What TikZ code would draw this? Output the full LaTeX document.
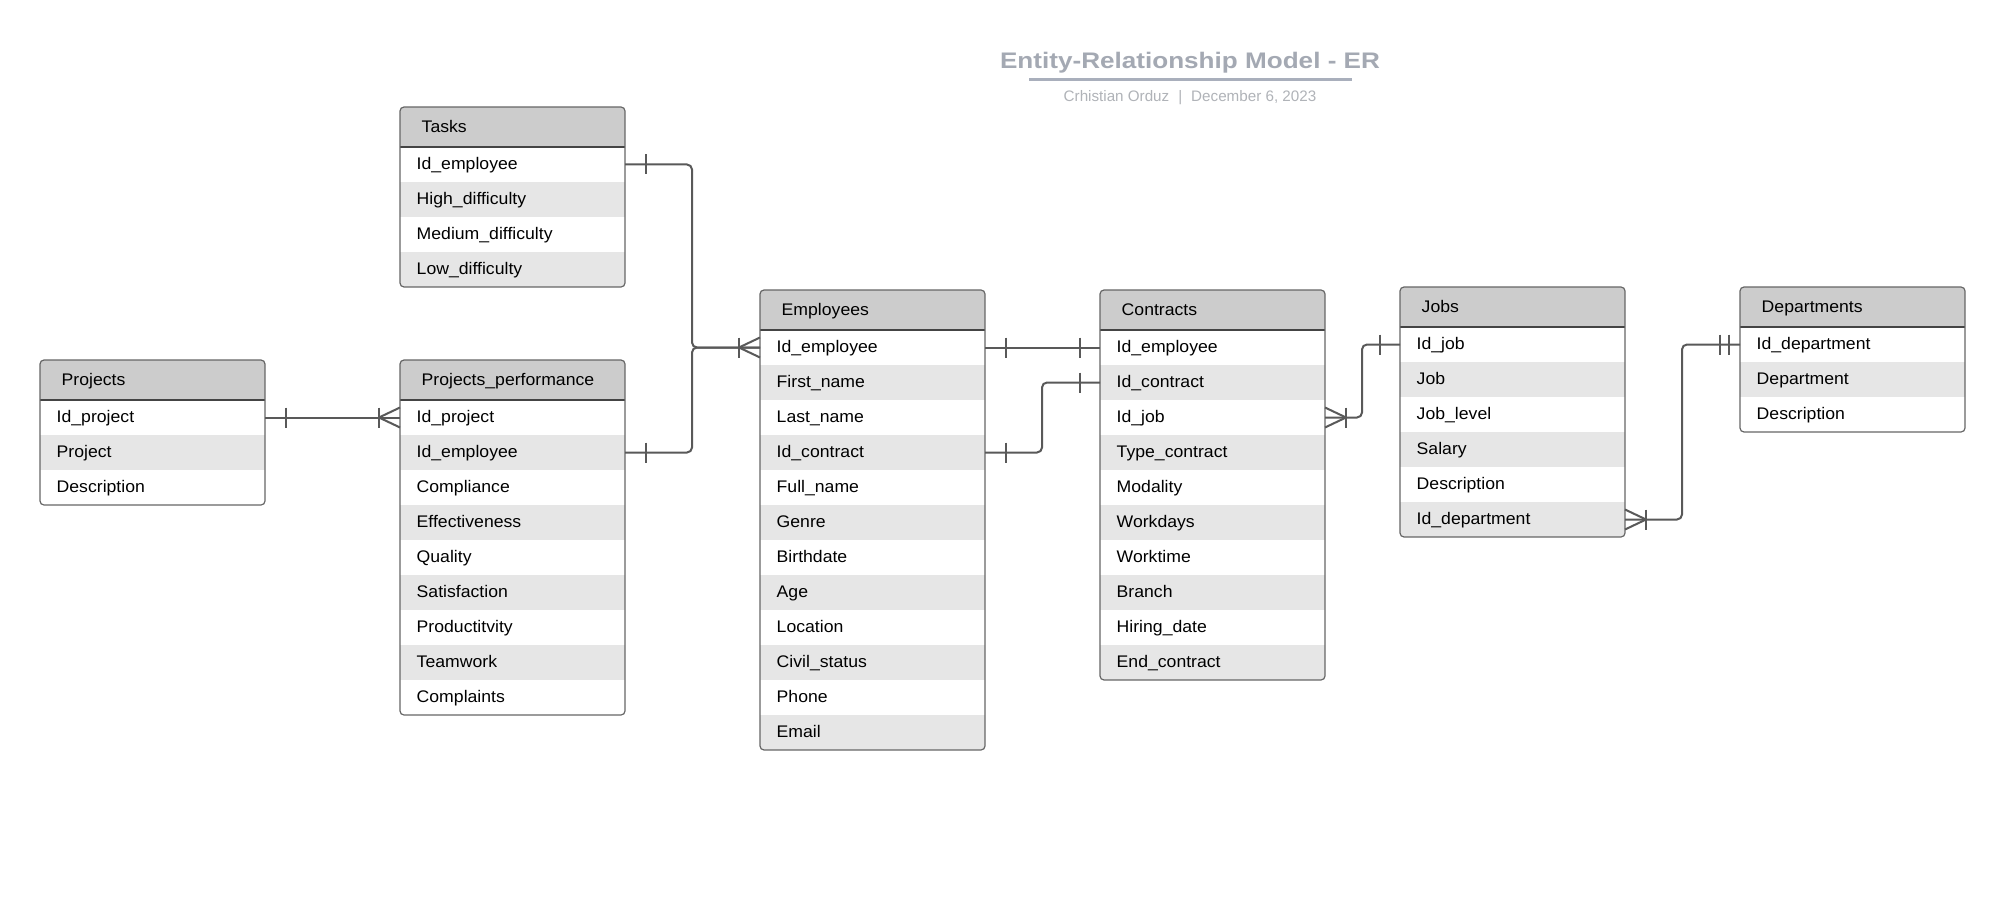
\documentclass[tikz,border=0pt]{standalone}
\usepackage{fontspec}
\setmainfont{Liberation Sans}[FakeStretch=1.05]
\newfontfamily\titlefont{Liberation Sans}[FakeStretch=1.16]
\newfontfamily\subfont{Liberation Sans}
\usetikzlibrary{calc}
\definecolor{hdrgray}{HTML}{CCCCCC}
\definecolor{rowgray}{HTML}{E6E6E6}
\definecolor{bordergray}{HTML}{666666}
\definecolor{seprgray}{HTML}{444444}
\definecolor{conngray}{HTML}{595959}
\definecolor{titlegray}{HTML}{A4A9B3}
\definecolor{linegray}{HTML}{A9AFBC}
\definecolor{subgray}{HTML}{B0B3B8}
\tikzset{
  rowcell/.style={anchor=north west, minimum height=35pt, text width=191.6pt,
    inner xsep=16.7pt, inner ysep=0pt, outer sep=0pt, align=left,
    font=\fontsize{16.8}{20}\selectfont, text height=13pt, text depth=3pt},
  hdrcell/.style={anchor=north west, minimum height=40pt, text width=181.6pt,
    inner xsep=21.7pt, inner ysep=0pt, outer sep=0pt, align=left, fill=hdrgray,
    font=\fontsize{16.8}{20}\selectfont, text height=13pt, text depth=2.5pt},
  conn/.style={draw=conngray, line width=2pt, line join=round},
  boxline/.style={draw=bordergray, line width=1.2pt},
  sepline/.style={draw=seprgray, line width=1.2pt},
}
\newcommand{\erentity}[5]{%
  \foreach \t [count=\i] in {#5} {\xdef\ernrows{\i}}%
  \pgfmathsetmacro\erh{40+35*\ernrows}%
  \begin{scope}
    \clip[rounded corners=4pt] (#2,#3) rectangle ++(225,\erh);
    \node[hdrcell] (#1-h) at (#2,#3) {#4};
    \foreach \t [count=\i] in {#5} {%
      \pgfmathsetmacro\yy{#3+40+35*(\i-1)}%
      \ifodd\i \node[rowcell,fill=white] (#1-\i) at (#2,\yy) {\t};%
      \else \node[rowcell,fill=rowgray] (#1-\i) at (#2,\yy) {\t};\fi
    }
  \end{scope}
  \draw[sepline] (#2,#3+40) -- ++(225,0);
  \draw[boxline, rounded corners=4pt] (#2,#3) rectangle ++(225,\erh);
}
\newcommand\erbar[2]{\draw[conn] ($(#1)+(#2,-10)$) -- ($(#1)+(#2,10)$);}
\newcommand\ercrow[2]{\draw[conn] ($(#1)+(0,-10)$) -- ($(#1)+(#2,0)$) -- ($(#1)+(0,10)$);\erbar{#1}{#2}}
\begin{document}
\begin{tikzpicture}[x=1pt,y=-1pt]
\fill[white] (0,0) rectangle (2005,920);
\useasboundingbox (0,0) rectangle (2005,920);

% title
\node[font=\titlefont\bfseries\fontsize{22.5}{25}\selectfont, text=titlegray, anchor=base, inner sep=0pt] (title) at (1190,68.5) {Entity-Relationship Model - ER};
\draw[draw=linegray, line width=2.2pt] (1029,79.5) -- (1352,79.5);
\node[font=\subfont\fontsize{15.2}{17}\selectfont, text=subgray, anchor=base, inner sep=0pt] (sub) at (1190,101.5) {Crhistian Orduz\hspace{9pt}|\hspace{9pt}December 6, 2023};

% entities
\erentity{proj}{40}{360}{Projects}{Id\_project, Project, Description}
\erentity{tasks}{400}{107}{Tasks}{Id\_employee, High\_difficulty, Medium\_difficulty, Low\_difficulty}
\erentity{pp}{400}{360}{Projects\_performance}{Id\_project, Id\_employee, Compliance, Effectiveness, Quality, Satisfaction, Productitvity, Teamwork, Complaints}
\erentity{emp}{760}{290}{Employees}{Id\_employee, First\_name, Last\_name, Id\_contract, Full\_name, Genre, Birthdate, Age, Location, Civil\_status, Phone, Email}
\erentity{con}{1100}{290}{Contracts}{Id\_employee, Id\_contract, Id\_job, Type\_contract, Modality, Workdays, Worktime, Branch, Hiring\_date, End\_contract}
\erentity{jobs}{1400}{287}{Jobs}{Id\_job, Job, Job\_level, Salary, Description, Id\_department}
\erentity{dep}{1740}{287}{Departments}{Id\_department, Department, Description}

% connectors
\coordinate (jn) at ($(emp-1.west)+(-68,0)$);
\draw[conn, rounded corners=5pt] (tasks-1.east) -| (jn) -- (emp-1.west);
\draw[conn, rounded corners=5pt] (pp-2.east) -| (jn) -- (emp-1.west);
\erbar{tasks-1.east}{21}
\erbar{pp-2.east}{21}
\ercrow{emp-1.west}{-21}

\draw[conn] (proj-1.east) -- (pp-1.west);
\erbar{proj-1.east}{21}
\ercrow{pp-1.west}{-21}

\draw[conn] (emp-1.east) -- (con-1.west);
\erbar{emp-1.east}{21}
\erbar{con-1.west}{-20}

\coordinate (c2) at ($(con-2.west)+(-58,0)$);
\draw[conn, rounded corners=5pt] (emp-4.east) -| (c2) -- (con-2.west);
\erbar{emp-4.east}{21}
\erbar{con-2.west}{-20}

\coordinate (j1) at ($(jobs-1.west)+(-38,0)$);
\draw[conn, rounded corners=5pt] (con-3.east) -| (j1) -- (jobs-1.west);
\ercrow{con-3.east}{21}
\erbar{jobs-1.west}{-20}

\coordinate (d1) at ($(dep-1.west)+(-58,0)$);
\draw[conn, rounded corners=5pt] (jobs-6.east) -| (d1) -- (dep-1.west);
\ercrow{jobs-6.east}{21}
\erbar{dep-1.west}{-20}
\erbar{dep-1.west}{-11}
\end{tikzpicture}
\end{document}
